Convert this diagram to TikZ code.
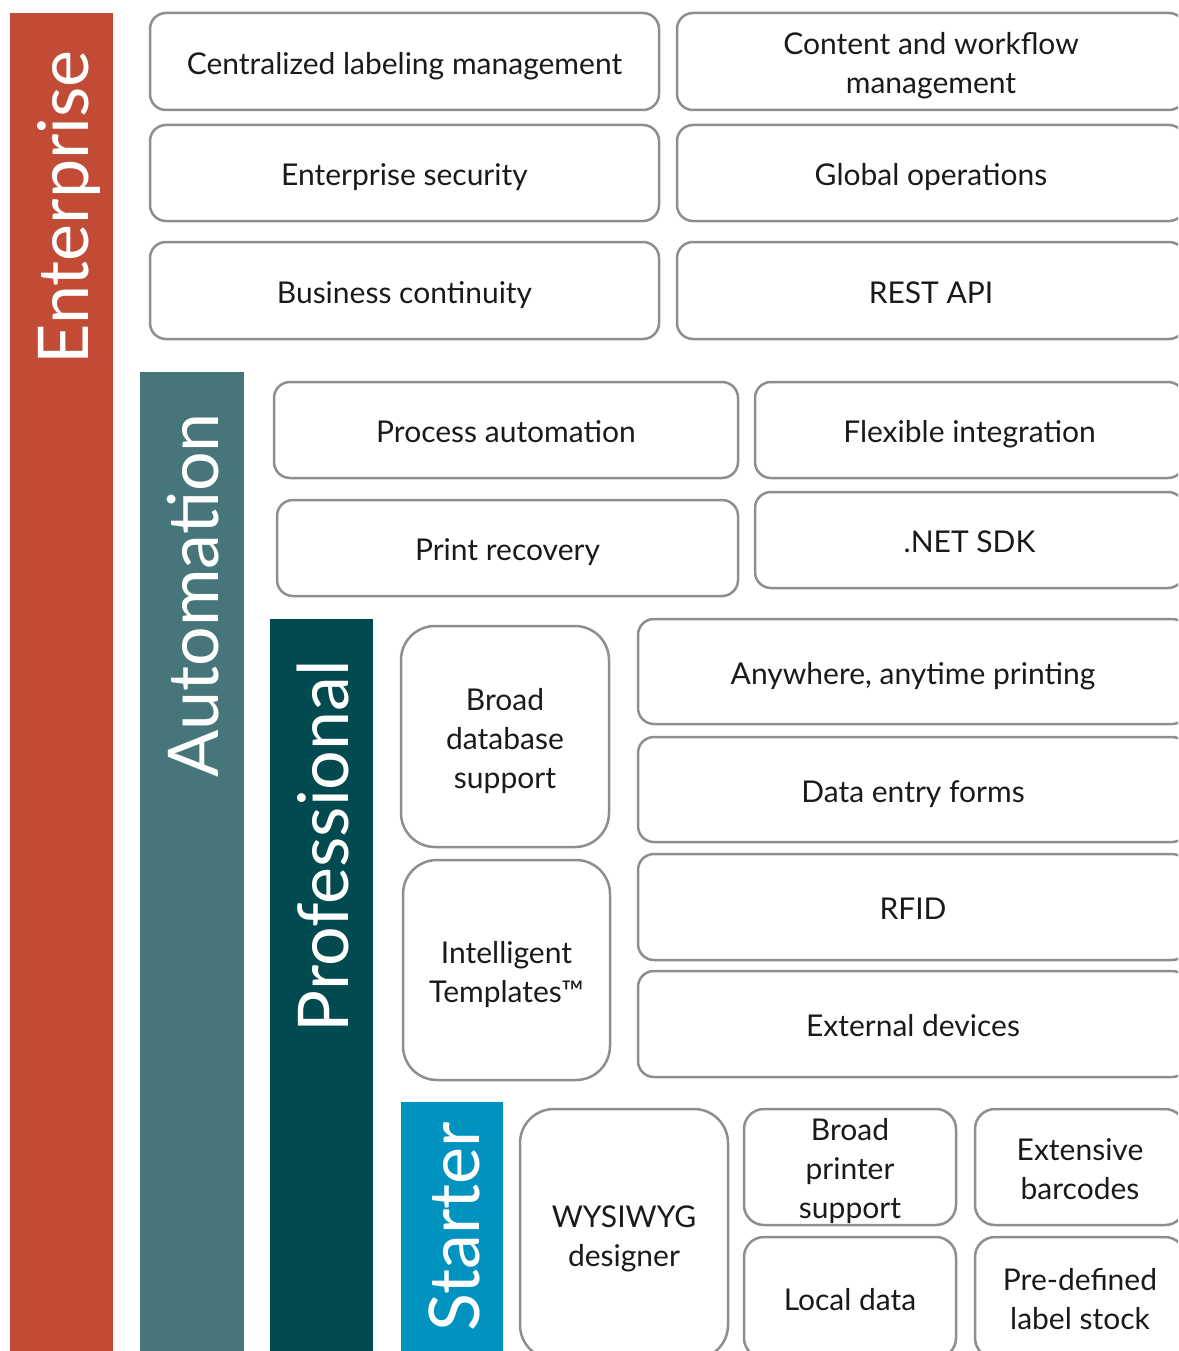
\documentclass[tikz,border=0pt]{standalone}
\usepackage{fontspec}
\setmainfont{Lato}
\definecolor{enterprisered}{HTML}{C14B34}
\definecolor{automationteal}{HTML}{47767A}
\definecolor{professionalteal}{HTML}{004A50}
\definecolor{starterblue}{HTML}{0093C0}
\definecolor{edgegray}{HTML}{8E8E8E}
\definecolor{textgray}{HTML}{1A1A1A}
\newcommand{\toprow}{\rule{0pt}{31pt}}
\begin{document}
\begin{tikzpicture}[x=1pt,y=-1pt,
	feat/.style={draw=edgegray,line width=2.5pt,rounded corners=16pt,anchor=north west,
		inner sep=0pt,outer sep=0pt,align=center,text=textgray,font=\fontsize{30}{39}\selectfont,
		execute at begin node=\toprow,execute at end node=\vphantom{g}},
	tall/.style={rounded corners=34pt},
	small/.style={rounded corners=20pt},
	tier/.style={anchor=north west,inner sep=0pt,outer sep=0pt},
	tiername/.style={anchor=base east,rotate=90,inner sep=0pt,text=white,font=\fontsize{70}{70}\selectfont}]
	\path[use as bounding box] (0,0) rectangle (1178,1351);
	\clip (0,0) rectangle (1178,1351);
	% tiers
	\node[tier,fill=enterprisered,minimum width=103pt,minimum height=1345pt] (ent) at (10,13) {};
	\node[tier,fill=automationteal,minimum width=104pt,minimum height=985pt] (aut) at (140,372) {};
	\node[tier,fill=professionalteal,minimum width=103pt,minimum height=740pt] (pro) at (270,619) {};
	\node[tier,fill=starterblue,minimum width=102pt,minimum height=260pt] (sta) at (401,1102) {};
	\node[tiername] (entname) at (88,50) {Enterprise};
	\node[tiername] (autname) at (218,413) {Automation};
	\node[tiername] (proname) at (348,660) {Professional};
	\node[tiername] (staname) at (479,1122) {Starter};
	% enterprise
	\node[feat,minimum width=509pt,minimum height=97pt] (labeling) at (150,13) {Centralized labeling management};
	\node[feat,minimum width=508pt,minimum height=97pt] (workflow) at (677,13) {\toprow Content and workflow\\management};
	\node[feat,minimum width=509pt,minimum height=96pt] (security) at (150,125) {Enterprise security};
	\node[feat,minimum width=508pt,minimum height=96pt] (global) at (677,125) {Global operations};
	\node[feat,minimum width=509pt,minimum height=97pt] (continuity) at (150,242) {Business continuity};
	\node[feat,minimum width=508pt,minimum height=97pt] (rest) at (677,242) {REST API};
	% automation
	\node[feat,minimum width=464pt,minimum height=96pt] (process) at (274,382) {Process automation};
	\node[feat,minimum width=429pt,minimum height=96pt] (flexible) at (755,382) {Flexible integration};
	\node[feat,minimum width=461pt,minimum height=96pt] (recovery) at (277,500) {Print recovery};
	\node[feat,minimum width=429pt,minimum height=96pt] (sdk) at (755,492) {.NET SDK};
	% professional
	\node[feat,tall,minimum width=208pt,minimum height=221pt] (database) at (401,626) {\toprow Broad\\database\\support};
	\node[feat,tall,minimum width=207pt,minimum height=220pt] (templates) at (403,860) {\toprow Intelligent\\Templates™};
	\node[feat,minimum width=550pt,minimum height=105pt] (anywhere) at (638,619) {Anywhere, anytime printing};
	\node[feat,minimum width=550pt,minimum height=105pt] (forms) at (638,737) {Data entry forms};
	\node[feat,minimum width=550pt,minimum height=106pt] (rfid) at (638,854) {RFID};
	\node[feat,minimum width=550pt,minimum height=106pt] (devices) at (638,971) {External devices};
	% starter
	\node[feat,tall,minimum width=208pt,minimum height=250pt] (wysiwyg) at (520,1109) {\toprow WYSIWYG\\designer};
	\node[feat,small,minimum width=212pt,minimum height=116pt] (printers) at (744,1109) {\toprow Broad\\printer\\support};
	\node[feat,small,minimum width=212pt,minimum height=121pt] (local) at (744,1237) {Local data};
	\node[feat,small,minimum width=210pt,minimum height=116pt] (barcodes) at (975,1109) {\toprow Extensive\\barcodes};
	\node[feat,small,minimum width=210pt,minimum height=121pt] (stock) at (975,1237) {\toprow Pre-defined\\label stock};
\end{tikzpicture}
\end{document}
